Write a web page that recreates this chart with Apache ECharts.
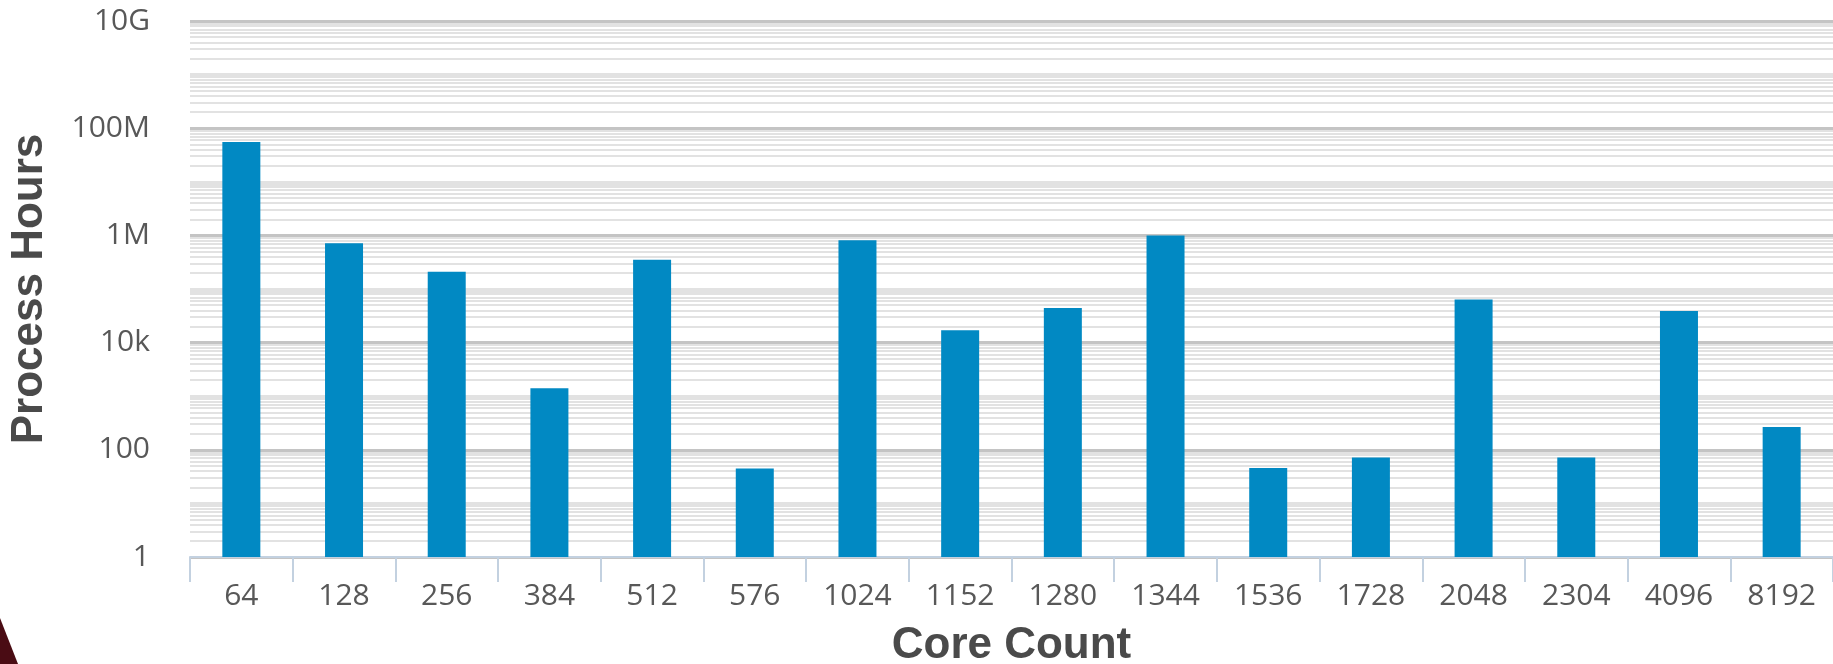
<!DOCTYPE html>
<html>
<head>
<meta charset="utf-8">
<title>Process Hours by Core Count</title>
<script src="https://cdn.jsdelivr.net/npm/echarts@6/dist/echarts.min.js"></script>
<style>
  html, body { margin: 0; padding: 0; background: #ffffff; }
  #main { width: 1833px; height: 664px; }
</style>
</head>
<body>
<div id="main"></div>
<script>
// Core counts on the x axis
const cores = ['64', '128', '256', '384', '512', '576', '1024', '1152', '1280', '1344', '1536', '1728', '2048', '2304', '4096', '8192'];
// Process hours consumed at each core count
const processHours = [5.5e7, 7.1e5, 2.1e5, 1.4e3, 3.5e5, 45, 8.1e5, 1.7e4, 4.4e4, 1.0e6, 46, 72, 6.4e4, 72, 3.9e4, 265];
// Labelled decades on the log axis
const yTickValues = [1, 100, 1e4, 1e6, 1e8, 1e10];
const yTickLabels = ['1', '100', '10k', '1M', '100M', '10G'];

// Minor grid values 2..9 x 10^n inside every decade of the axis range
const minorGridValues = [];
for (let e = 0; e < 10; e++) {
  for (let k = 2; k <= 9; k++) minorGridValues.push(k * Math.pow(10, e));
}

const labelFont = 'Open Sans';
const titleFont = 'Liberation Sans';

const chart = echarts.init(document.getElementById('main'), null, { renderer: 'canvas' });

chart.setOption({
  animation: false,
  backgroundColor: '#ffffff',
  grid: {
    left: 190, right: 0, top: 21, bottom: 107,
    containLabel: false,
    outerBoundsMode: 'none'
  },
  xAxis: {
    type: 'category',
    data: cores,
    boundaryGap: true,
    name: 'Core Count',
    nameLocation: 'middle',
    nameGap: 67,
    nameTextStyle: { fontFamily: titleFont, fontWeight: 'bold', fontSize: 44, color: '#4a4a4a' },
    axisLine: { show: true, lineStyle: { color: '#c3d1e0', width: 2 } },
    axisTick: { show: true, alignWithLabel: false, length: 25, lineStyle: { color: '#c3d1e0', width: 2 } },
    axisLabel: { interval: 0, margin: 24, fontFamily: labelFont, fontSize: 30, color: '#585858' },
    splitLine: { show: false }
  },
  yAxis: {
    type: 'log',
    logBase: 10,
    min: 1,
    max: 1e10,
    interval: 1, // one decade per tick (log space)
    name: 'Process Hours',
    nameLocation: 'middle',
    nameRotate: 90,
    nameGap: 138,
    nameTextStyle: { fontFamily: titleFont, fontWeight: 'bold', fontSize: 44, color: '#4a4a4a' },
    axisLine: { show: false },
    axisTick: { show: false },
    axisLabel: {
      margin: 40,
      fontFamily: labelFont,
      fontSize: 30,
      color: '#585858',
      formatter: function (v) {
        const i = yTickValues.indexOf(Math.pow(10, Math.round(Math.log10(v))));
        return i >= 0 ? yTickLabels[i] : '';
      }
    },
    splitLine: {
      show: true,
      lineStyle: { color: ['#c4c4c4', '#e2e2e2'], width: 3 }
    }
  },
  series: [{
    type: 'bar',
    data: processHours,
    barWidth: '37%',
    z: 10,
    itemStyle: { color: '#0189c3' },
    markLine: {
      silent: true,
      z: 1,
      symbol: ['none', 'none'],
      label: { show: false },
      emphasis: { disabled: true },
      lineStyle: { color: '#e2e2e2', width: 2, type: 'solid' },
      data: minorGridValues.map(function (v) { return { yAxis: v }; })
    }
  }],
  graphic: [{
    type: 'polygon',
    shape: { points: [[0, 618], [18, 664], [0, 664]] },
    style: { fill: '#4a0c14' },
    silent: true
  }]
});
</script>
</body>
</html>
